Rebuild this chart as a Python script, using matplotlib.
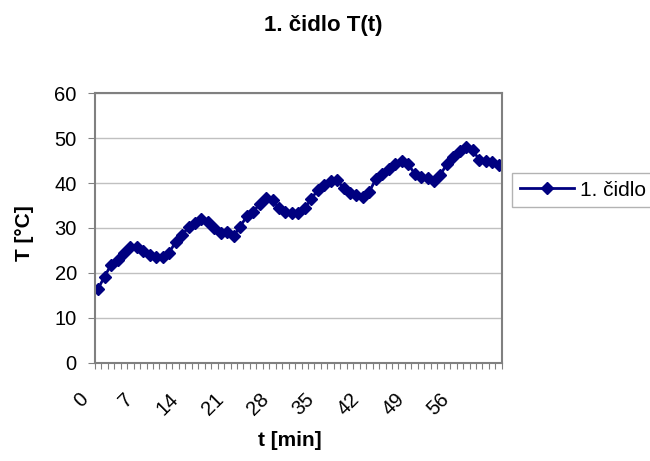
import numpy as np
import matplotlib.pyplot as plt
from matplotlib.transforms import ScaledTranslation

plt.rcParams['font.family'] = ['Liberation Sans', 'DejaVu Sans']

# t [min] a teplota prvniho cidla
t = np.arange(0, 63)
temp = [16.5, 19.2, 21.8, 22.9, 24.4, 25.8, 25.7, 24.9, 24.0, 23.6,
        23.5, 24.5, 26.9, 28.4, 30.2, 31.2, 31.9, 31.3, 29.9, 28.9,
        29.1, 28.3, 30.3, 32.6, 33.6, 35.3, 36.6, 36.3, 34.4, 33.6,
        33.3, 33.3, 34.4, 36.5, 38.4, 39.5, 40.4, 40.7, 38.8, 37.8,
        37.3, 36.8, 38.1, 40.9, 42.1, 43.2, 44.3, 44.8, 44.2, 42.1,
        41.4, 41.1, 40.5, 41.8, 44.3, 45.8, 47.2, 48.0, 47.3, 45.2,
        44.8, 44.7, 44.0]
xlabels = [0, 7, 14, 21, 28, 35, 42, 49, 56]

fig = plt.figure(figsize=(6.5, 4.61), dpi=100)
ax = fig.add_axes([0.146, 0.213, 0.626, 0.585])

ax.plot(t, temp, color='#000080', lw=2, marker='D', ms=6.5,
        markeredgecolor='#000080', label='1. čidlo')

ax.set_xlim(-0.5, 62.5)
ax.set_ylim(0, 60)
ax.set_yticks(range(0, 61, 10))
ax.set_xticks(xlabels)
ax.set_xticklabels([])
# popisky osy x posunute doleva jako v Excelu
trans = ax.get_xaxis_transform() + ScaledTranslation(-0.2, -0.265, fig.dpi_scale_trans)
for v in xlabels:
    ax.text(v, 0, str(v), transform=trans, rotation=45, ha='right', va='top',
            rotation_mode='anchor', fontsize=14.5)
ax.set_xticks(np.arange(-0.5, 63, 1), minor=True)
ax.tick_params(axis='x', which='major', length=0)
ax.tick_params(axis='x', which='minor', length=4, color='#808080', width=0.8)
ax.tick_params(axis='y', labelsize=14.5, length=5, pad=8, color='#808080', width=0.8)
ax.grid(axis='y', color='#c0c0c0', lw=1)
ax.set_axisbelow(True)
for s in ax.spines.values():
    s.set_color('#808080')
    s.set_linewidth(1.5)

fig.text(290 / 650, 1 - 440 / 461, 't [min]', ha='center', va='center',
         fontsize=15, fontweight='bold')
fig.text(24 / 650, 1 - 233 / 461, 'T [°C]', ha='center', va='center',
         rotation=90, fontsize=15, fontweight='bold')
fig.text(323 / 650, 1 - 25 / 461, '1. čidlo T(t)', ha='center', va='center',
         fontsize=16, fontweight='bold')

leg = ax.legend(loc='center left', bbox_to_anchor=(1.026, 0.64), fontsize=15,
                frameon=True, fancybox=False, handlelength=2.6,
                handletextpad=0.3, borderpad=0.35, borderaxespad=0)
leg.get_frame().set_edgecolor('#a0a0a0')
leg.get_frame().set_linewidth(1)

fig.savefig('out.png', dpi=100)
